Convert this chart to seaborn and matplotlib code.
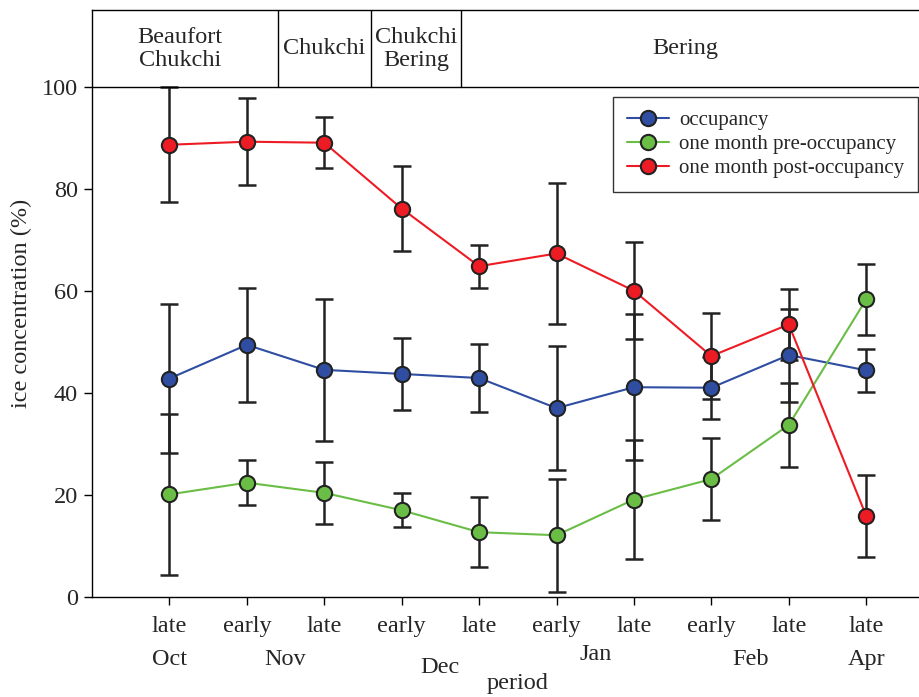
import numpy as np
import pandas as pd
import matplotlib
matplotlib.use('Agg')
import matplotlib.pyplot as plt
import seaborn as sns

# data
periods = ['late', 'early', 'late', 'early', 'late', 'early', 'late', 'early', 'late', 'late']
months = ['Oct', 'Nov', 'Dec', 'Jan', 'Feb', 'Apr']
month_pos = [0, 1.5, 3.5, 5.5, 7.5, 9]
month_dy = [-0.106, -0.106, -0.120, -0.098, -0.106, -0.106]

occ_mean = [42.8, 49.4, 44.5, 43.7, 42.9, 37.0, 41.1, 41.0, 47.4, 44.4]
occ_err = [14.6, 11.2, 13.9, 7.0, 6.7, 12.1, 14.3, 6.1, 9.1, 4.2]
pre_mean = [20.1, 22.4, 20.4, 17.0, 12.7, 12.1, 19.1, 23.1, 33.7, 58.3]
pre_err = [15.8, 4.4, 6.1, 3.3, 6.8, 11.1, 11.6, 8.0, 8.2, 6.9]
post_mean = [88.6, 89.2, 89.0, 76.1, 64.8, 67.3, 60.0, 47.2, 53.4, 15.9]
post_err = [11.3, 8.5, 5.0, 8.3, 4.2, 13.8, 9.5, 8.5, 7.0, 8.0]

regions = ['Beaufort\nChukchi', 'Chukchi', 'Chukchi\nBering', 'Bering']
region_edges = [1.4, 2.61, 3.77]
region_pos = [0.14, 2.0, 3.19, 6.66]

series_names = ['occupancy', 'one month pre-occupancy', 'one month post-occupancy']
colors = {'occupancy': '#2f4ea2', 'one month pre-occupancy': '#6abd45', 'one month post-occupancy': '#ed1c24'}

x = np.arange(len(periods))
df = pd.DataFrame({
    'x': np.tile(x, 3),
    'value': occ_mean + pre_mean + post_mean,
    'err': occ_err + pre_err + post_err,
    'series': np.repeat(series_names, len(x)),
})

sns.set_style('ticks')
plt.rcParams['font.family'] = ['Liberation Serif', 'DejaVu Serif']
fs = 17.5

fig = plt.figure(figsize=(9.2, 6.97), dpi=100)
ax = fig.add_axes([92 / 920, 1 - 597 / 697, 840 / 920, 587 / 697])

# error bars behind the markers
for name in series_names:
    d = df[df['series'] == name]
    ax.errorbar(d['x'], d['value'], yerr=d['err'], fmt='none', ecolor='#222222',
                elinewidth=1.8, capsize=6.5, capthick=1.8, zorder=2)

sns.lineplot(data=df, x='x', y='value', hue='series', palette=colors, marker='o',
             markersize=11, markeredgecolor='#222222', markeredgewidth=1.5,
             linewidth=1.5, ax=ax, zorder=3)

ax.set_xlim(-1.0, 9.85)
ax.set_ylim(0, 115)
ax.set_yticks([0, 20, 40, 60, 80, 100])
ax.set_xticks(x)
ax.set_xticklabels(periods)
ax.tick_params(axis='both', direction='out', length=6, width=1, color='black', labelsize=fs, pad=4)
ax.tick_params(axis='x', pad=8)
for s in ax.spines.values():
    s.set_color('black')
    s.set_linewidth(1)
ax.spines['right'].set_visible(False)

ax.set_ylabel('ice concentration (%)', fontsize=fs)
ax.yaxis.set_label_coords(-0.071, 0.50)
ax.set_xlabel('')
ax.text(4.5, -0.148, 'period', transform=ax.get_xaxis_transform(), ha='center', va='center', fontsize=fs)

# month labels under the ticks
for m, p, dy in zip(months, month_pos, month_dy):
    ax.text(p, dy, m, transform=ax.get_xaxis_transform(), ha='center', va='center', fontsize=fs)

# region band across the top
ax.axhline(100, color='black', linewidth=1)
for e in region_edges:
    ax.plot([e, e], [100, 115], color='black', linewidth=1)
for r, p in zip(regions, region_pos):
    ax.text(p, 107.4, r, ha='center', va='center', fontsize=fs, linespacing=1.1)

leg = ax.legend(loc='upper right', bbox_to_anchor=(0.983, 0.852), borderaxespad=0, frameon=True,
                fancybox=False, edgecolor='black', fontsize=15, handlelength=2.0, borderpad=0.65,
                labelspacing=0.22, handletextpad=0.5, title=None)
leg.get_frame().set_linewidth(1)
for h in leg.legend_handles:
    h.set_markersize(11)

fig.savefig('out.png', dpi=100)
